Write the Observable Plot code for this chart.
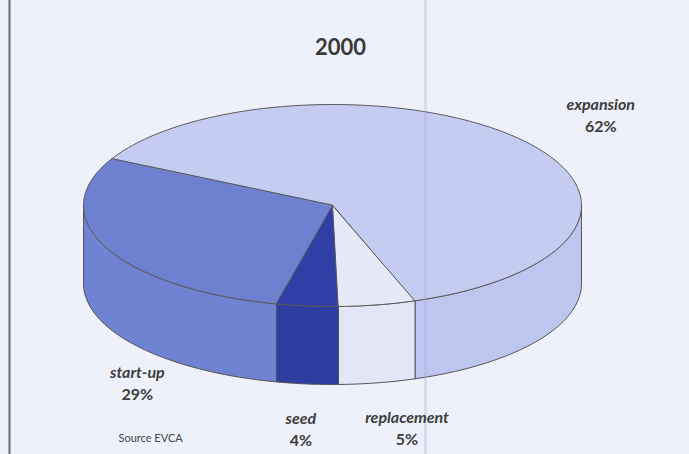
<!DOCTYPE html>
<html>
<head>
<meta charset="utf-8">
<script src="https://cdn.jsdelivr.net/npm/d3@7"></script>
<script src="https://cdn.jsdelivr.net/npm/@observablehq/plot@0.6"></script>
<style>
  html, body { margin: 0; padding: 0; background: #eef1f9; }
  #chart svg { display: block; }
</style>
</head>
<body>
<div id="chart"></div>
<script>
// ---- data ----
const title = "2000";
const source = "Source EVCA";
const categories = ["expansion", "replacement", "seed", "start-up"];
const shares = [62, 5, 4, 29];

// ---- styling / layout ----
const fills = {"expansion": "#c4cdf1", "replacement": "#e6e9f8", "seed": "#2f3fa6", "start-up": "#6e81d0"};
const sideFills = {"expansion": "#bcc6ee", "replacement": "#e2e6f7", "seed": "#2d3da2", "start-up": "#7083d2"};
const labelOffsets = {"expansion": [80, -23], "start-up": [31, 58], "seed": [-6, 46], "replacement": [30, 46]};
const W = 689, H = 454;
const cx = 332, cy = 205, rx = 249, ry = 101, depth = 78;
const startDeg = 207.5; // where expansion begins (clockwise on screen)
const rad = d => d * Math.PI / 180;

const rows = categories.map((c, i) => ({category: c, share: shares[i]}));
const total = d3.sum(shares);
let acc = startDeg;
rows.forEach(r => { r.a0 = acc; r.a1 = acc + r.share / total * 360; acc = r.a1; });

const pt = (deg, dz = 0) => ({x: cx + rx * Math.cos(rad(deg)), y: cy + ry * Math.sin(rad(deg)) + dz});
function arc(a0, a1, dz = 0) {
  const n = Math.max(2, Math.ceil(Math.abs(a1 - a0) / 1.5));
  return d3.range(n + 1).map(i => pt(a0 + (a1 - a0) * i / n, dz));
}

// side faces (front half: screen angle between 0 and 180 mod 360)
const sides = [];
rows.forEach(r => {
  for (const k of [0, 360]) {
    const lo = Math.max(r.a0, k), hi = Math.min(r.a1, k + 180);
    if (hi > lo) {
      const pts = [...arc(lo, hi), ...arc(hi, lo, depth)];
      sides.push({category: r.category, pts});
    }
  }
});
const tops = rows.map(r => ({category: r.category, pts: [{x: cx, y: cy}, ...arc(r.a0, r.a1)]}));

// labels anchored at slice mid-angle on the rim
const labels = rows.map(r => {
  const mid = (r.a0 + r.a1) / 2;
  const front = Math.sin(rad(mid)) > 0;
  const p = pt(mid, front ? depth : 0);
  const [ox, oy] = labelOffsets[r.category];
  return {x: p.x + ox, y: p.y + oy, name: r.category, pct: r.share + "%"};
});

const font = "Lato, 'Open Sans', 'DejaVu Sans', sans-serif";
const marks = [
  Plot.ruleX([9], {y1: 0, y2: H, stroke: "#6b6b6b", strokeWidth: 2}),
  ...sides.map(s => Plot.line(s.pts, {x: "x", y: "y", curve: "linear-closed", fill: sideFills[s.category], stroke: "#555", strokeWidth: 1})),
  ...tops.map(t => Plot.line(t.pts, {x: "x", y: "y", curve: "linear-closed", fill: fills[t.category], stroke: "#5a5a5a", strokeWidth: 1})),
  Plot.ruleX([425], {y1: 0, y2: H, stroke: "#a9a9e6", strokeOpacity: 0.3, strokeWidth: 3}),
  Plot.text([title], {x: 340, y: 47, text: d => d, fontSize: 22, fontWeight: "bold", fill: "#3a3a3a", fontFamily: font}),
  Plot.text(labels, {x: "x", y: "y", text: "name", dy: -11, fontSize: 16, fontWeight: "bold", fontStyle: "italic", fill: "#3d3d3d", fontFamily: font}),
  Plot.text(labels, {x: "x", y: "y", text: "pct", dy: 11, fontSize: 16, fontWeight: "bold", fill: "#3d3d3d", fontFamily: font}),
  Plot.text([source], {x: 118, y: 438, text: d => d, textAnchor: "start", fontSize: 11, fill: "#444", fontFamily: font})
];

const chart = Plot.plot({
  width: W, height: H,
  margin: 0,
  x: {domain: [0, W], range: [0, W], axis: null},
  y: {domain: [0, H], range: [0, H], axis: null},
  style: {background: "#eef1f9", fontFamily: font},
  marks
});
document.getElementById("chart").appendChild(chart);
</script>
</body>
</html>
